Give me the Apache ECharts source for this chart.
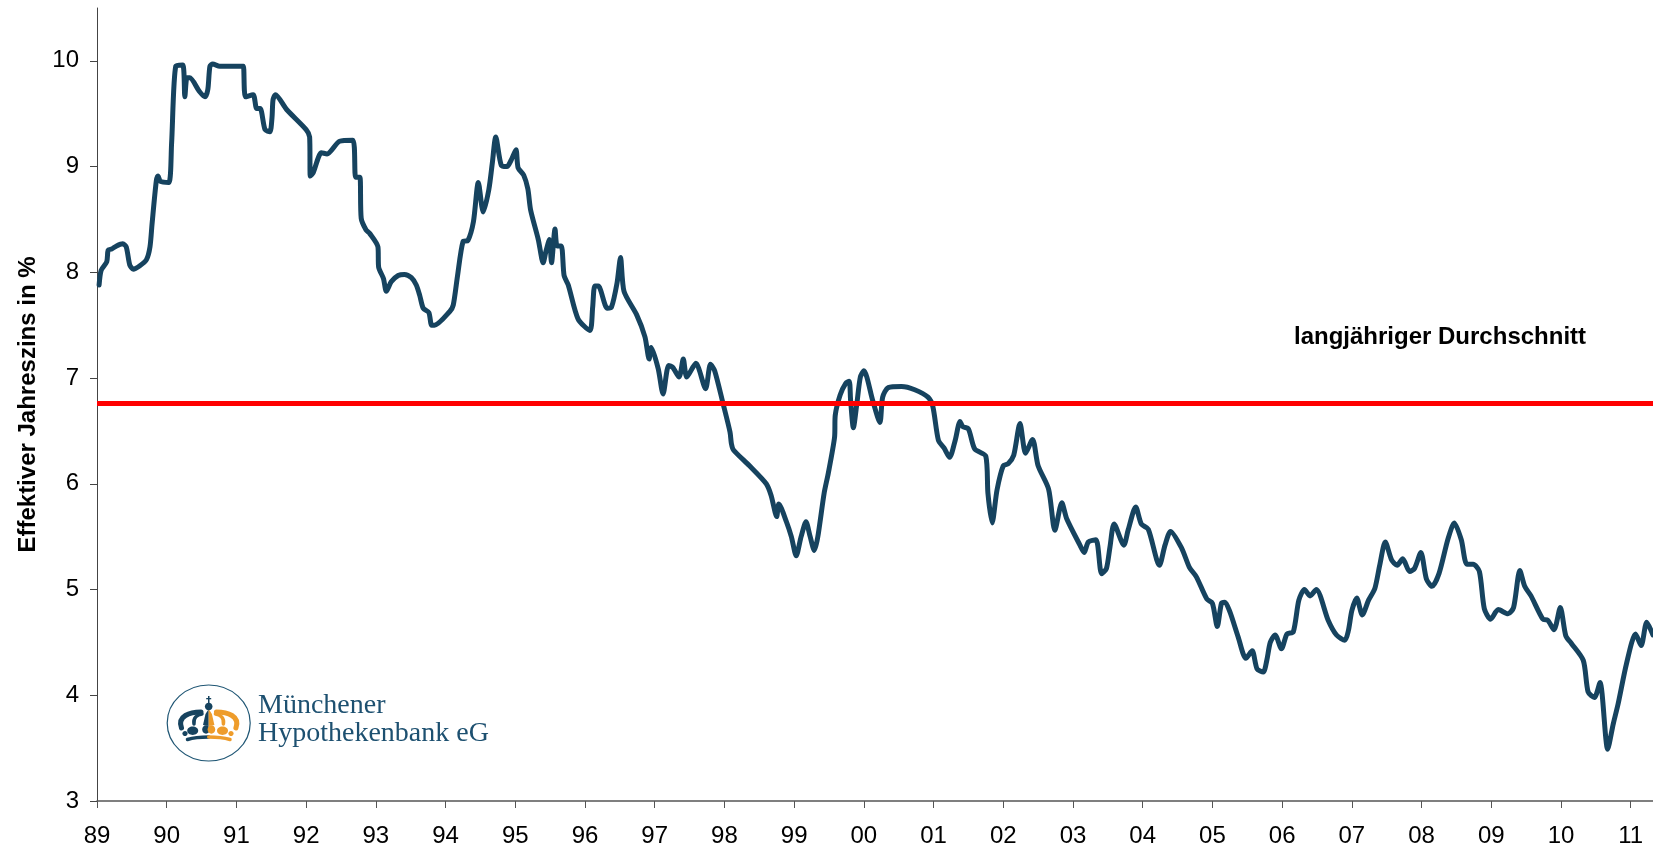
<!DOCTYPE html>
<html>
<head>
<meta charset="utf-8">
<title>Effektiver Jahreszins</title>
<style>
    html, body { margin: 0; padding: 0; background: #fff; }
    #chart { width: 1653px; height: 852px; }
</style>
</head>
<body>
<div id="chart"></div>
<script src="https://cdn.jsdelivr.net/npm/echarts@6/dist/echarts.min.js"></script>
<script>
// x values are years since 1900 (89.5 = mid 1989)
const years = [
    89.03, 89.06, 89.14, 89.16, 89.21, 89.28, 89.37, 89.42, 89.47, 89.52,
    89.61, 89.71, 89.76, 89.79, 89.85, 89.875, 89.91, 90.03, 90.07, 90.13,
    90.23, 90.26, 90.29, 90.33, 90.47, 90.55, 90.59, 90.62, 90.66, 90.76,
    91.07, 91.10, 91.13, 91.24, 91.29, 91.34, 91.41, 91.48, 91.51, 91.525,
    91.56, 91.72, 92.00, 92.05, 92.06, 92.10, 92.22, 92.30, 92.48, 92.67,
    92.71, 92.77, 92.79, 92.86, 92.91, 93.03, 93.04, 93.11, 93.15, 93.22,
    93.32, 93.41, 93.51, 93.58, 93.63, 93.68, 93.76, 93.80, 93.84, 94.06,
    94.11, 94.17, 94.25, 94.32, 94.40, 94.47, 94.54, 94.62, 94.67, 94.72,
    94.80, 94.88, 94.94, 95.01, 95.04, 95.12, 95.18, 95.22, 95.33, 95.40,
    95.44, 95.49, 95.52, 95.57, 95.60, 95.66, 95.70, 95.76, 95.90, 96.07,
    96.11, 96.14, 96.19, 96.32, 96.38, 96.46, 96.51, 96.56, 96.74, 96.86,
    96.92, 96.95, 97.05, 97.12, 97.20, 97.26, 97.35, 97.41, 97.46, 97.59,
    97.73, 97.80, 97.86, 97.98, 98.08, 98.10, 98.13, 98.36, 98.60, 98.67,
    98.75, 98.78, 98.89, 98.96, 99.03, 99.10, 99.17, 99.23, 99.29, 99.34,
    99.43, 99.49, 99.58, 99.59, 99.66, 99.74, 99.79, 99.81, 99.85, 99.90,
    99.95, 100.00, 100.13, 100.23, 100.27, 100.35, 100.54, 100.73, 100.92, 100.99,
    101.07, 101.15, 101.23, 101.31, 101.38, 101.42, 101.50, 101.59, 101.75, 101.78,
    101.84, 101.91, 102.00, 102.07, 102.15, 102.24, 102.32, 102.42, 102.50, 102.65,
    102.74, 102.84, 102.91, 103.10, 103.16, 103.22, 103.33, 103.41, 103.48, 103.53,
    103.59, 103.73, 103.79, 103.90, 103.98, 104.08, 104.24, 104.32, 104.40, 104.56,
    104.67, 104.77, 104.92, 105.00, 105.07, 105.13, 105.18, 105.25, 105.37, 105.48,
    105.57, 105.64, 105.73, 105.78, 105.83, 105.90, 105.99, 106.07, 106.16, 106.24,
    106.32, 106.40, 106.49, 106.66, 106.78, 106.90, 106.95, 107.00, 107.07, 107.15,
    107.24, 107.33, 107.40, 107.48, 107.57, 107.65, 107.73, 107.83, 107.90, 107.99,
    108.07, 108.15, 108.25, 108.38, 108.47, 108.57, 108.65, 108.74, 108.83, 108.90,
    108.99, 109.10, 109.24, 109.32, 109.41, 109.48, 109.57, 109.74, 109.81, 109.90,
    109.99, 110.07, 110.15, 110.32, 110.39, 110.48, 110.56, 110.67, 110.75, 110.82,
    110.94, 111.07, 111.15, 111.23, 111.32
]
const rates = [
    7.88, 8.02, 8.10, 8.21, 8.22, 8.25, 8.27, 8.24, 8.07, 8.03,
    8.06, 8.12, 8.24, 8.46, 8.86, 8.91, 8.86, 8.85, 9.22, 9.95,
    9.96, 9.66, 9.84, 9.84, 9.71, 9.66, 9.73, 9.95, 9.97, 9.95,
    9.95, 9.95, 9.66, 9.68, 9.55, 9.55, 9.35, 9.33, 9.46, 9.63,
    9.68, 9.54, 9.35, 9.28, 8.91, 8.94, 9.13, 9.12, 9.24, 9.25,
    8.90, 8.90, 8.51, 8.40, 8.37, 8.24, 8.05, 7.94, 7.82, 7.91,
    7.97, 7.98, 7.95, 7.88, 7.78, 7.66, 7.62, 7.50, 7.50, 7.63,
    7.69, 7.96, 8.29, 8.30, 8.48, 8.85, 8.57, 8.78, 9.03, 9.28,
    9.01, 9.00, 9.06, 9.16, 8.99, 8.92, 8.79, 8.59, 8.31, 8.09,
    8.20, 8.31, 8.09, 8.41, 8.25, 8.25, 7.97, 7.88, 7.56, 7.45,
    7.67, 7.87, 7.87, 7.66, 7.67, 7.90, 8.14, 7.82, 7.60, 7.39,
    7.18, 7.29, 7.09, 6.85, 7.12, 7.10, 7.01, 7.18, 7.01, 7.14,
    6.90, 7.13, 7.07, 6.76, 6.49, 6.38, 6.32, 6.17, 6.00, 5.89,
    5.69, 5.81, 5.64, 5.50, 5.32, 5.50, 5.64, 5.50, 5.37, 5.50,
    5.91, 6.10, 6.44, 6.65, 6.84, 6.95, 6.97, 6.79, 6.53, 6.76,
    7.01, 7.07, 6.78, 6.58, 6.82, 6.91, 6.92, 6.89, 6.82, 6.73,
    6.41, 6.34, 6.25, 6.41, 6.59, 6.54, 6.52, 6.33, 6.26, 5.91,
    5.63, 5.94, 6.17, 6.19, 6.27, 6.57, 6.29, 6.42, 6.17, 5.95,
    5.56, 5.82, 5.67, 5.42, 5.35, 5.45, 5.47, 5.15, 5.20, 5.40,
    5.62, 5.42, 5.56, 5.78, 5.62, 5.57, 5.23, 5.42, 5.55, 5.39,
    5.21, 5.12, 4.91, 4.87, 4.65, 4.87, 4.88, 4.79, 4.55, 4.35,
    4.42, 4.25, 4.22, 4.33, 4.50, 4.57, 4.44, 4.58, 4.60, 4.90,
    5.00, 4.94, 5.00, 4.71, 4.57, 4.52, 4.61, 4.80, 4.92, 4.76,
    4.90, 5.01, 5.23, 5.45, 5.28, 5.23, 5.29, 5.17, 5.20, 5.35,
    5.10, 5.03, 5.15, 5.48, 5.63, 5.47, 5.24, 5.24, 5.17, 4.82,
    4.72, 4.81, 4.77, 4.83, 5.18, 5.03, 4.94, 4.72, 4.71, 4.62,
    4.83, 4.56, 4.49, 4.33, 4.03, 3.98, 4.12, 3.49, 3.73, 3.92,
    4.30, 4.58, 4.47, 4.69, 4.57
]
const avgYears = [89, 111.32]
const avgRates = [6.76, 6.76]
const xTicks = [89, 90, 91, 92, 93, 94, 95, 96, 97, 98, 99, 100, 101, 102, 103, 104, 105, 106, 107, 108, 109, 110, 111]
const yTicks = [3, 4, 5, 6, 7, 8, 9, 10]

const font = '"Liberation Sans", Arial, sans-serif'
const navy = '#16435f'
const orange = '#ee9c2b'

function pairs(xs, ys) {
    return xs.map((x, i) => [x, ys[i]])
}

// logo: circle, crown and bank name
function arc(x1, y1, cx1, cy1, cx2, cy2, x2, y2, color, w) {
    return {
        type: 'bezierCurve',
        shape: { x1, y1, cpx1: cx1, cpy1: cy1, cpx2: cx2, cpy2: cy2, x2, y2 },
        style: { fill: 'none', stroke: color, lineWidth: w, lineCap: 'round' }
    }
}
function dot(cx, cy, rx, ry, color) {
    return { type: 'ellipse', shape: { cx, cy, rx, ry }, style: { fill: color } }
}
function poly(points, color) {
    return { type: 'polygon', shape: { points }, style: { fill: color } }
}
const logo = [
    { type: 'ellipse', shape: { cx: 208.7, cy: 723, rx: 41.5, ry: 38 }, style: { fill: '#fff', stroke: '#1f5674', lineWidth: 1.2 } },
    // arches
    arc(181.5, 728, 177, 716, 190, 712, 201, 712, navy, 5),
    arc(194, 724, 193, 718, 197, 714.5, 202, 714, navy, 3.5),
    arc(235.9, 728, 240.4, 716, 227.4, 712, 216.4, 712, orange, 5),
    arc(223.4, 724, 224.4, 718, 220.4, 714.5, 215.4, 714, orange, 3.5),
    // centre pillar and globe
    poly([[208.7, 709], [205.5, 714], [203, 725], [208.7, 726]], navy),
    poly([[208.7, 709], [211.9, 714], [214.4, 725], [208.7, 726]], orange),
    dot(208.7, 706.5, 3.8, 3.8, navy),
    { type: 'rect', shape: { x: 208, y: 696, width: 1.5, height: 7 }, style: { fill: navy } },
    { type: 'rect', shape: { x: 206.2, y: 698, width: 5, height: 1.3 }, style: { fill: navy } },
    // beads
    dot(185, 733.5, 2.6, 2.6, navy),
    dot(192.7, 730.8, 5.5, 4.2, navy),
    dot(206, 729.5, 3.8, 4.2, navy),
    dot(211.4, 729.5, 3.8, 4.2, orange),
    dot(222.5, 730.8, 5.5, 4.2, orange),
    dot(231, 733.5, 2.6, 2.6, orange),
    // band
    arc(187.5, 739.5, 194, 737.5, 201, 737, 208.7, 737, navy, 3.5),
    arc(208.7, 737, 216, 737, 223, 737.5, 230, 739.5, orange, 3.5),
    {
        type: 'text', x: 258, y: 720,
        style: { text: 'Münchener', font: '28px "Liberation Serif", serif', fill: '#1d5070', textVerticalAlign: 'bottom' }
    },
    {
        type: 'text', x: 258, y: 748,
        style: { text: 'Hypothekenbank eG', font: '28px "Liberation Serif", serif', fill: '#1d5070', textVerticalAlign: 'bottom' }
    }
]

let myChart = echarts.init(document.querySelector('#chart'))

const option = {
    animation: false,
    backgroundColor: '#fff',
    grid: { left: 97, right: 0, top: 8, bottom: 51 },
    xAxis: {
        type: 'value',
        min: 89,
        max: 111.32,
        interval: 1,
        splitLine: { show: false },
        axisLine: { lineStyle: { color: '#555', width: 1.5 } },
        axisTick: { show: true, length: 7, customValues: xTicks, lineStyle: { color: '#555', width: 1 } },
        axisLabel: {
            customValues: xTicks,
            color: '#000',
            fontFamily: font,
            fontSize: 24,
            margin: 23,
            formatter: v => String(v % 100).padStart(2, '0')
        }
    },
    yAxis: {
        type: 'value',
        min: 3,
        max: 10.5,
        interval: 1,
        name: 'Effektiver Jahreszins in %',
        nameLocation: 'middle',
        nameGap: 57,
        nameTextStyle: { color: '#000', fontFamily: font, fontSize: 24, fontWeight: 'bold' },
        splitLine: { show: false },
        axisLine: { show: true, lineStyle: { color: '#444', width: 1 } },
        axisTick: { show: true, length: 7, customValues: yTicks, lineStyle: { color: '#444', width: 1 } },
        axisLabel: { customValues: yTicks, color: '#000', fontFamily: font, fontSize: 24, margin: 18 }
    },
    graphic: logo.concat([{
        type: 'text',
        x: 1294,
        y: 337,
        style: { text: 'langjähriger Durchschnitt', font: 'bold 24px ' + font, fill: '#000', textVerticalAlign: 'middle' }
    }]),
    series: [
        {
            type: 'line',
            data: pairs(years, rates),
            showSymbol: false,
            smooth: 0.25,
            lineStyle: { color: navy, width: 5, join: 'round', cap: 'round' },
            z: 3
        },
        {
            type: 'line',
            data: pairs(avgYears, avgRates),
            showSymbol: false,
            lineStyle: { color: '#ff0000', width: 5 },
            z: 4
        }
    ]
}

myChart.setOption(option)
</script>
</body>
</html>
